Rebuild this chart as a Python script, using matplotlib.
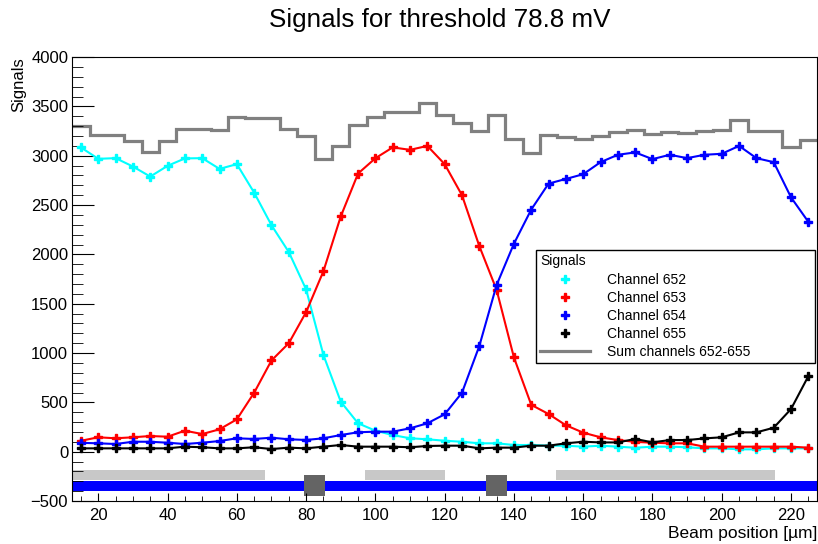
import numpy as np
import matplotlib.pyplot as plt
from matplotlib.patches import Rectangle
from matplotlib.ticker import MultipleLocator

plt.rcParams['font.family'] = ['Liberation Sans', 'DejaVu Sans']

# beam positions in um, one scan point every 5 um
position = np.arange(15, 230, 5)

ch652 = [3084, 2969, 2976, 2891, 2789, 2898, 2973, 2976, 2867, 2915,
         2626, 2296, 2024, 1645, 980, 507, 288, 213, 169, 136,
         126, 111, 101, 85, 85, 68, 68, 61, 61, 51,
         61, 51, 40, 51, 51, 45, 34, 34, 24, 24,
         34, 34, 34]
ch653 = [111, 146, 136, 146, 159, 152, 213, 179, 227, 328,
         598, 925, 1100, 1415, 1830, 2385, 2820, 2975, 3085, 3060,
         3100, 2915, 2600, 2085, 1640, 955, 475, 382, 268, 193,
         146, 118, 100, 91, 85, 85, 51, 51, 51, 51,
         51, 51, 41]
ch654 = [90, 85, 78, 101, 101, 91, 78, 91, 108, 136,
         129, 142, 126, 119, 136, 169, 197, 203, 203, 237,
         288, 379, 598, 1071, 1690, 2109, 2455, 2718, 2765, 2813,
         2935, 3010, 3034, 2966, 3010, 2976, 3010, 3020, 3100, 2976,
         2935, 2578, 2330]
ch655 = [34, 34, 34, 34, 34, 34, 51, 45, 34, 34,
         45, 27, 41, 34, 51, 68, 51, 51, 51, 45,
         58, 61, 61, 34, 41, 41, 61, 61, 85, 101,
         94, 94, 129, 95, 118, 118, 135, 146, 196, 196,
         243, 433, 766]
sum_652_655 = [3300, 3207, 3207, 3150, 3040, 3150, 3275, 3275, 3258, 3395,
               3385, 3385, 3275, 3198, 2965, 3100, 3315, 3394, 3445, 3439,
               3536, 3411, 3333, 3252, 3411, 3170, 3030, 3209, 3195, 3170,
               3200, 3240, 3265, 3220, 3245, 3235, 3250, 3262, 3360, 3255,
               3255, 3090, 3160]

# sensor layout drawn below zero: strips, metal pads and the full sensor
strips = [(12.5, 68.0), (97.0, 120.0), (152.0, 215.5)]
pads = [(79.5, 85.5), (132.0, 138.0)]

fig = plt.figure(figsize=(8.18, 5.44), dpi=100)
ax = fig.add_axes([0.0884, 0.079, 0.9104, 0.816])

ax.add_patch(Rectangle((12.5, -400), 215, 100, color='#0000ff', lw=0))
for a, b in strips:
    ax.add_patch(Rectangle((a, -290), b - a, 100, color='#c8c8c8', lw=0))
for a, b in pads:
    ax.add_patch(Rectangle((a, -445), b - a, 210, color='#646464', lw=0))

edges = np.append(position - 2.5, position[-1] + 2.5)
ax.stairs(sum_652_655, edges, baseline=None, color='#808080', lw=2.3,
          label='Sum channels 652-655')

style = dict(marker='P', markersize=6, lw=1.5)
ax.plot(position, ch652, color='#00ffff', **style)
ax.plot(position, ch653, color='#ff0000', **style)
ax.plot(position, ch654, color='#0000ff', **style)
ax.plot(position, ch655, color='#000000', **style)

# legend entries show only the markers for the channels
handles = []
for c, name in [('#00ffff', 'Channel 652'), ('#ff0000', 'Channel 653'),
                ('#0000ff', 'Channel 654'), ('#000000', 'Channel 655')]:
    h, = ax.plot([], [], ls='none', marker='P', markersize=6, color=c, label=name)
    handles.append(h)
line, = ax.plot([], [], color='#808080', lw=2.3, label='Sum channels 652-655')
handles.append(line)
leg = ax.legend(handles=handles, title='Signals', loc='upper left',
                bbox_to_anchor=(0.623, 0.313, 0.374, 0.252), mode='expand',
                borderaxespad=0, fontsize=10, title_fontsize=10,
                alignment='left', fancybox=False, framealpha=1,
                edgecolor='black', handlelength=3.6, handletextpad=1.2,
                labelspacing=0.3, borderpad=0.3)
leg.get_frame().set_linewidth(1.0)

ax.set_xlim(12.5, 227.5)
ax.set_ylim(-500, 4000)
ax.xaxis.set_major_locator(MultipleLocator(20))
ax.xaxis.set_minor_locator(MultipleLocator(5))
ax.yaxis.set_major_locator(MultipleLocator(500))
ax.yaxis.set_minor_locator(MultipleLocator(100))
ax.tick_params(axis='both', which='both', direction='in', labelsize=12,
               top=False, right=False)
ax.tick_params(axis='y', which='major', length=16, pad=3)
ax.tick_params(axis='y', which='minor', length=8)
ax.tick_params(axis='x', which='major', length=6, pad=5)
ax.tick_params(axis='x', which='minor', length=3.3)

fig.text(0.537, 0.963, 'Signals for threshold 78.8 mV', fontsize=18.7,
         ha='center', va='center')
ax.set_xlabel('Beam position [µm]', loc='right', fontsize=12.5, labelpad=2)
ax.set_ylabel('Signals', loc='top', fontsize=12, labelpad=3)

fig.savefig('out.png', dpi=100)
